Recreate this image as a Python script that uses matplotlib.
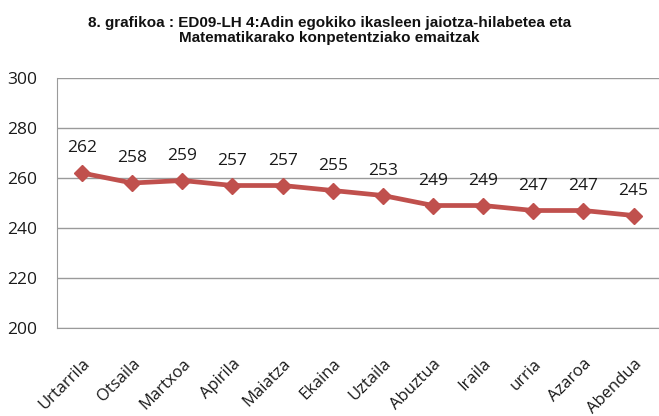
import matplotlib.pyplot as plt

months = ["Urtarrila", "Otsaila", "Martxoa", "Apirila", "Maiatza", "Ekaina",
          "Uztaila", "Abuztua", "Iraila", "urria", "Azaroa", "Abendua"]
scores = [262, 258, 259, 257, 257, 255, 253, 249, 249, 247, 247, 245]
yticks = [200, 220, 240, 260, 280, 300]

title = ("8. grafikoa : ED09-LH 4:Adin egokiko ikasleen jaiotza-hilabetea eta\n"
         "Matematikarako konpetentziako emaitzak")

body_font = ["Open Sans", "DejaVu Sans"]
plt.rcParams["font.family"] = ["Liberation Sans", "DejaVu Sans"]

fig = plt.figure(figsize=(6.59, 4.16), dpi=100)
ax = fig.add_axes([0.0865, 0.2115, 0.913, 0.601])

x = range(len(months))
ax.plot(x, scores, color="#C0504D", linewidth=3.4, marker="D", markersize=8)
for i, v in zip(x, scores):
    ax.text(i, v + 10, str(v), ha="center", va="center", fontsize=12.5,
            family=body_font, color="#1a1a1a")

ax.set_xlim(-0.5, len(months) - 0.5)
ax.set_ylim(200, 300)
ax.set_yticks(yticks)
ax.set_yticklabels([str(t) for t in yticks], fontsize=12.5,
                   family=body_font, color="#1a1a1a")
ax.set_xticks(list(x))
ax.set_xticklabels(months, rotation=45, ha="right", va="top",
                   rotation_mode="anchor", fontsize=12,
                   family=body_font, color="#1a1a1a")
ax.tick_params(length=0)
ax.tick_params(axis="y", pad=14)
ax.tick_params(axis="x", pad=20)
ax.yaxis.grid(True, color="#9a9a9a", linewidth=1)
ax.set_axisbelow(True)
for s in ["top", "right"]:
    ax.spines[s].set_visible(False)
for s in ["left", "bottom"]:
    ax.spines[s].set_color("#9a9a9a")

fig.text(0.5, 0.926, title, ha="center", va="center", fontsize=11,
         fontweight="bold", linespacing=1.1, color="#111111")

fig.savefig("out.png", dpi=100)
